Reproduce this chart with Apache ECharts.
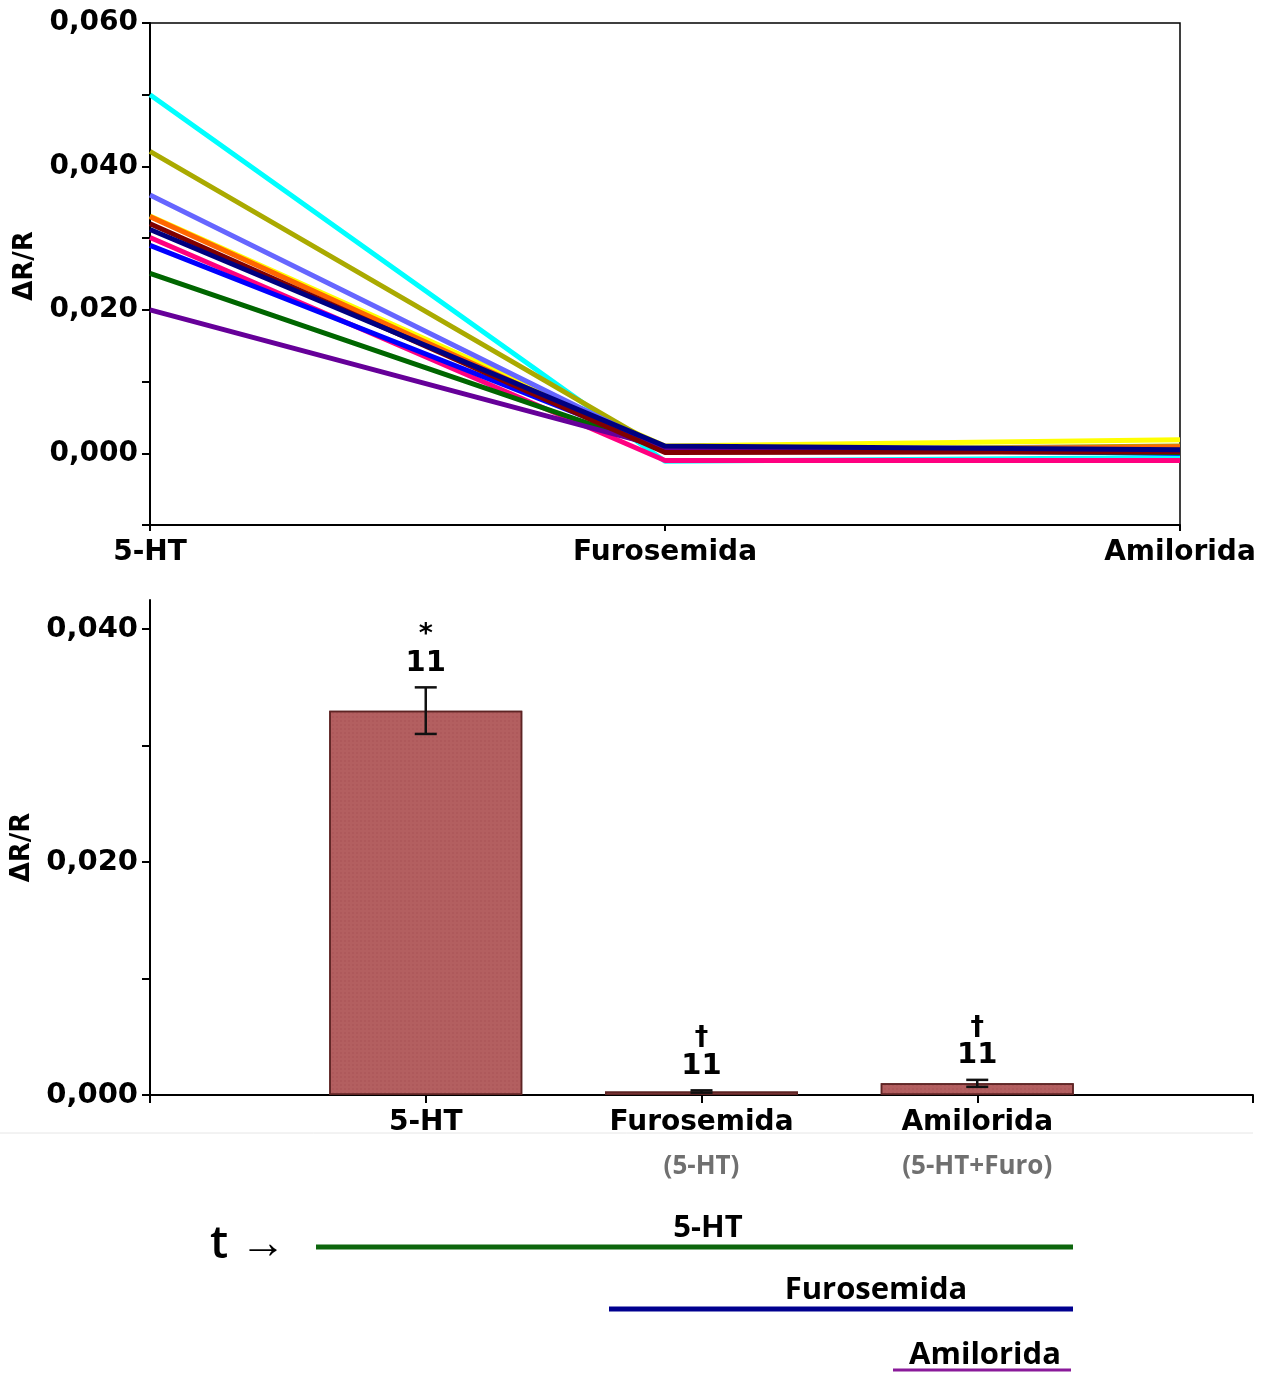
<!DOCTYPE html>
<html><head><meta charset="utf-8">
<script src="https://cdn.jsdelivr.net/npm/echarts@6/dist/echarts.min.js"></script>
<style>html,body{margin:0;padding:0;background:#fff}#c{width:1265px;height:1373px}</style>
</head><body><div id="c"></div>
<script>
// ---- top chart data (individual traces) ----
const lineCats = ['5-HT', 'Furosemida', 'Amilorida'];
const lineColors = ['#ffff00','#00ffff','#aaaa00','#6666ff','#ff6600','#ff0080','#0000ff','#006600','#660099','#800000','#000080'];
const s_yellow   = [0.0331, 0.0010, 0.0019];
const s_cyan     = [0.0500, -0.0011, -0.0006];
const s_olive    = [0.0421, 0.0004, 0.0010];
const s_lavender = [0.0360, 0.0005, 0.0008];
const s_orange   = [0.0330, 0.0003, 0.0009];
const s_pink     = [0.0301, -0.0010, -0.0010];
const s_blue     = [0.0290, 0.0007, 0.0000];
const s_green    = [0.0251, 0.0005, 0.0001];
const s_purple   = [0.0200, 0.0008, 0.0003];
const s_darkred  = [0.0320, 0.0001, 0.0002];
const s_navy     = [0.0312, 0.0010, 0.0005];
const lineSeries = [s_yellow, s_cyan, s_olive, s_lavender, s_orange, s_pink, s_blue, s_green, s_purple, s_darkred, s_navy];

// ---- bottom chart data (mean ± error, n) ----
const barCats = ['5-HT', 'Furosemida', 'Amilorida'];
const barSub = ['', '(5-HT)', '(5-HT+Furo)'];
const barPos = [1, 2, 3];
const barMean = [0.0330, 0.0003, 0.0010];
const barErr = [0.0020, 0.0001, 0.0003];
const barN = ['11', '11', '11'];
const barMark = ['*', '\u2020', '\u2020'];

const F = 'DejaVu Sans';
const fmt = v => v.toFixed(3).replace('.', ',');

const chart = echarts.init(document.getElementById('c'), null, {renderer: 'canvas'});

const series = [];
lineSeries.forEach((d, i) => {
  series.push({
    type: 'line', xAxisIndex: 0, yAxisIndex: 0, data: d, symbol: 'none',
    lineStyle: {color: lineColors[i], width: 5}, itemStyle: {color: lineColors[i]}, silent: true, animation: false
  });
});
series.push({
  type: 'bar', xAxisIndex: 1, yAxisIndex: 1, barWidth: 193, z: 2,
  data: barPos.map((p, i) => [p, barMean[i]]),
  itemStyle: {color: '#b35f60', borderColor: '#5e2424', borderWidth: 1.5,
    decal: {symbol: 'rect', symbolSize: 0.5, dashArrayX: [2, 2], dashArrayY: [2, 2], color: 'rgba(130,40,45,0.35)'}},
  animation: false
});
series.push({
  type: 'custom', xAxisIndex: 1, yAxisIndex: 1, animation: false, z: 10,
  data: barPos.map((p, i) => [p, barMean[i], barErr[i], i]),
  renderItem: (params, api) => {
    const x = api.value(0), m = api.value(1), e = api.value(2), idx = api.value(3);
    const top = api.coord([x, m + e]), bot = api.coord([x, m - e]);
    const cx = top[0], cap = 11;
    const st = {stroke: '#111', lineWidth: 2.5};
    return {type: 'group', children: [
      {type: 'line', shape: {x1: cx, y1: top[1], x2: cx, y2: bot[1]}, style: st},
      {type: 'line', shape: {x1: cx - cap, y1: top[1], x2: cx + cap, y2: top[1]}, style: st},
      {type: 'line', shape: {x1: cx - cap, y1: bot[1], x2: cx + cap, y2: bot[1]}, style: st},
      {type: 'text', style: {x: cx, y: top[1] - 24, text: barN[idx], align: 'center', verticalAlign: 'middle',
        font: 'bold 29px "DejaVu Sans"', fill: '#000'}},
      {type: 'text', style: {x: cx, y: top[1] - 52, text: barMark[idx], align: 'center', verticalAlign: 'middle',
        font: 'bold 27px "DejaVu Sans"', fill: '#000'}}
    ]};
  }
});

chart.setOption({
  animation: false,
  grid: [
    {left: 150, right: 85, top: 23, bottom: 848, show: true, borderColor: '#000', borderWidth: 1.5, backgroundColor: 'transparent'},
    {left: 150, right: 12, top: 600, bottom: 278}
  ],
  xAxis: [
    {gridIndex: 0, type: 'category', data: lineCats, boundaryGap: false,
     axisLine: {onZero: false, lineStyle: {color: '#000', width: 2}},
     axisTick: {show: true, length: 6, lineStyle: {color: '#000', width: 2}},
     axisLabel: {color: '#000', fontFamily: F, fontWeight: 'bold', fontSize: 28, margin: 14}},
    {gridIndex: 1, type: 'value', min: 0, max: 4, interval: 1, splitLine: {show: false},
     axisLine: {onZero: false, lineStyle: {color: '#000', width: 2}},
     axisTick: {show: true, length: 8, lineStyle: {color: '#000', width: 2}},
     axisLabel: {margin: 13, interval: 0,
       formatter: v => { const i = barPos.indexOf(v); if (i < 0) return ''; return '{a|' + barCats[i] + '}' + (barSub[i] ? '\n{b|' + barSub[i] + '}' : ''); },
       rich: {a: {fontFamily: F, fontWeight: 'bold', fontSize: 28, color: '#000', lineHeight: 30},
              b: {fontFamily: 'Open Sans', fontWeight: 'bold', fontSize: 26, color: '#707070', lineHeight: 58}}}}
  ],
  yAxis: [
    {gridIndex: 0, type: 'value', min: -0.01, max: 0.06, interval: 0.01, splitLine: {show: false},
     name: 'ΔR/R', nameLocation: 'middle', nameGap: 104, nameRotate: 90,
     nameTextStyle: {fontFamily: F, fontWeight: 'bold', fontSize: 26, color: '#000', padding: [0, 0, 0, 16]},
     axisLine: {show: true, onZero: false, lineStyle: {color: '#000', width: 2}},
     axisTick: {show: true, length: 8, lineStyle: {color: '#000', width: 2}},
     axisLabel: {color: '#000', fontFamily: F, fontWeight: 'bold', fontSize: 28, margin: 12,
       formatter: v => { const k = Math.round(v * 100); return (k >= 0 && k % 2 === 0) ? fmt(v) : ''; }}},
    {gridIndex: 1, type: 'value', min: 0, max: 0.0425, interval: 0.01, splitLine: {show: false},
     name: 'ΔR/R', nameLocation: 'middle', nameGap: 104, nameRotate: 90,
     nameTextStyle: {fontFamily: F, fontWeight: 'bold', fontSize: 26, color: '#000'},
     axisLine: {show: true, onZero: false, lineStyle: {color: '#000', width: 2}},
     axisTick: {show: true, length: 8, lineStyle: {color: '#000', width: 2}},
     axisLabel: {color: '#000', fontFamily: F, fontWeight: 'bold', fontSize: 29, margin: 12, showMaxLabel: false,
       formatter: v => { const k = Math.round(v * 100); return (k % 2 === 0 && v <= 0.04) ? fmt(v) : ''; }}}
  ],
  series: series,
  graphic: [
    {type: 'line', shape: {x1: 0, y1: 1133, x2: 1253, y2: 1133}, style: {stroke: '#e6e6e6', lineWidth: 1}},
    {type: 'text', style: {x: 210, y: 1245, text: 't \u2192', verticalAlign: 'middle', font: '600 46px "Open Sans"', fill: '#000'}},
    {type: 'line', shape: {x1: 316, y1: 1247, x2: 1073, y2: 1247}, style: {stroke: '#0d660d', lineWidth: 5}},
    {type: 'text', style: {x: 708, y: 1228, text: '5-HT', align: 'center', verticalAlign: 'middle', font: 'bold 31px "Open Sans"', fill: '#000'}},
    {type: 'line', shape: {x1: 609, y1: 1309, x2: 1073, y2: 1309}, style: {stroke: '#00008f', lineWidth: 5}},
    {type: 'text', style: {x: 876, y: 1290, text: 'Furosemida', align: 'center', verticalAlign: 'middle', font: 'bold 31px "Open Sans"', fill: '#000'}},
    {type: 'line', shape: {x1: 893, y1: 1370, x2: 1071, y2: 1370}, style: {stroke: '#8a1a9a', lineWidth: 3}},
    {type: 'text', style: {x: 985, y: 1355, text: 'Amilorida', align: 'center', verticalAlign: 'middle', font: 'bold 31px "Open Sans"', fill: '#000'}}
  ]
});
</script>
</body></html>
